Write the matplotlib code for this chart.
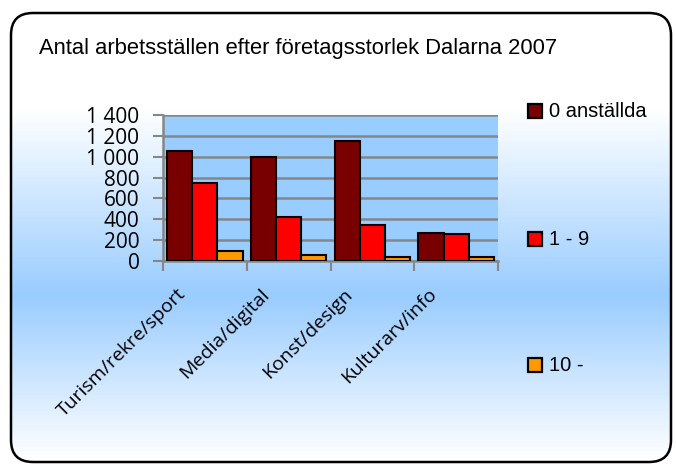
import numpy as np
import matplotlib.pyplot as plt
from matplotlib.patches import FancyBboxPatch
from matplotlib.colors import to_rgb

categories = ["Turism/rekre/sport", "Media/digital", "Konst/design", "Kulturarv/info"]
series_names = ["0 anställda", "1 - 9", "10 -"]
anst_0 = [1055, 1000, 1150, 270]
anst_1_9 = [750, 425, 350, 255]
anst_10 = [100, 58, 40, 40]
yticks = [0, 200, 400, 600, 800, 1000, 1200, 1400]
ytick_labels = ["0", "200", "400", "600", "800", "1 000", "1 200", "1 400"]
title = "Antal arbetsställen efter företagsstorlek Dalarna 2007"

colors = ["#780000", "#ff0000", "#ff9900"]
W, H = 676, 465

fig = plt.figure(figsize=(W / 100, H / 100), dpi=100)
fig.patch.set_facecolor("white")

# background with rounded frame and vertical gradient
bg = fig.add_axes([0, 0, 1, 1])
bg.set_xlim(0, W)
bg.set_ylim(H, 0)
bg.axis("off")
rows = np.arange(H)
blue = np.array(to_rgb("#99ccff"))
t = np.interp(rows, [0, 110, 295, 458], [0, 0, 1, 0])
grad = 1 - t[:, None] * (1 - blue[None, :])
img = np.repeat(grad[:, None, :], W, axis=1)
frame = FancyBboxPatch((11, 13), 660, 449, boxstyle="round,pad=0,rounding_size=22",
                       facecolor="none", edgecolor="black", linewidth=1.8, zorder=3)
bg.add_patch(frame)
im = bg.imshow(img, extent=(0, W, H, 0), aspect="auto", zorder=1)
im.set_clip_path(frame)

bg.text(39, 54, title, fontsize=15.8, family="Liberation Sans",
        ha="left", va="baseline", zorder=4)

# chart
ax = fig.add_axes([163 / W, 1 - 261 / H, 335 / W, 146 / H])
ax.set_facecolor("#99ccff")
x = np.arange(len(categories))
bw = 0.3
for i, vals in enumerate([anst_0, anst_1_9, anst_10]):
    ax.bar(x + (i - 1) * bw, vals, bw, color=colors[i], edgecolor="black",
           linewidth=1.5, label=series_names[i], zorder=3)

ax.set_xlim(-0.5, len(categories) - 0.5)
ax.set_ylim(0, 1400)
ax.set_yticks(yticks)
ax.set_yticklabels(ytick_labels, family="Open Sans", fontsize=15)
ax.yaxis.grid(True, color="#868686", linewidth=1.8, zorder=0)
ax.set_xticks(np.arange(len(categories) + 1) - 0.5)
ax.set_xticklabels([])
ax.tick_params(axis="both", colors="#868686", width=1.5, length=7, labelcolor="black")
ax.tick_params(axis="y", pad=10)
for s in ["top", "right"]:
    ax.spines[s].set_visible(False)
for s in ["left", "bottom"]:
    ax.spines[s].set_color("#868686")
    ax.spines[s].set_linewidth(1.8)

for i, c in enumerate(categories):
    ax.annotate(c, xy=(i, 0), xycoords=("data", "axes fraction"),
                xytext=(-16, -22), textcoords="offset points",
                rotation=45, ha="right", va="center", rotation_mode="anchor",
                family="Open Sans", fontsize=14)

# legend
leg_y = [111, 239, 365]
for i, name in enumerate(series_names):
    bg.add_patch(plt.Rectangle((528, leg_y[i] - 7), 14, 14, facecolor=colors[i],
                               edgecolor="black", linewidth=1.6, zorder=4))
    bg.text(549, leg_y[i], name, fontsize=14.5, family="Liberation Sans",
            ha="left", va="center", zorder=4)

fig.savefig("out.png", dpi=100)
